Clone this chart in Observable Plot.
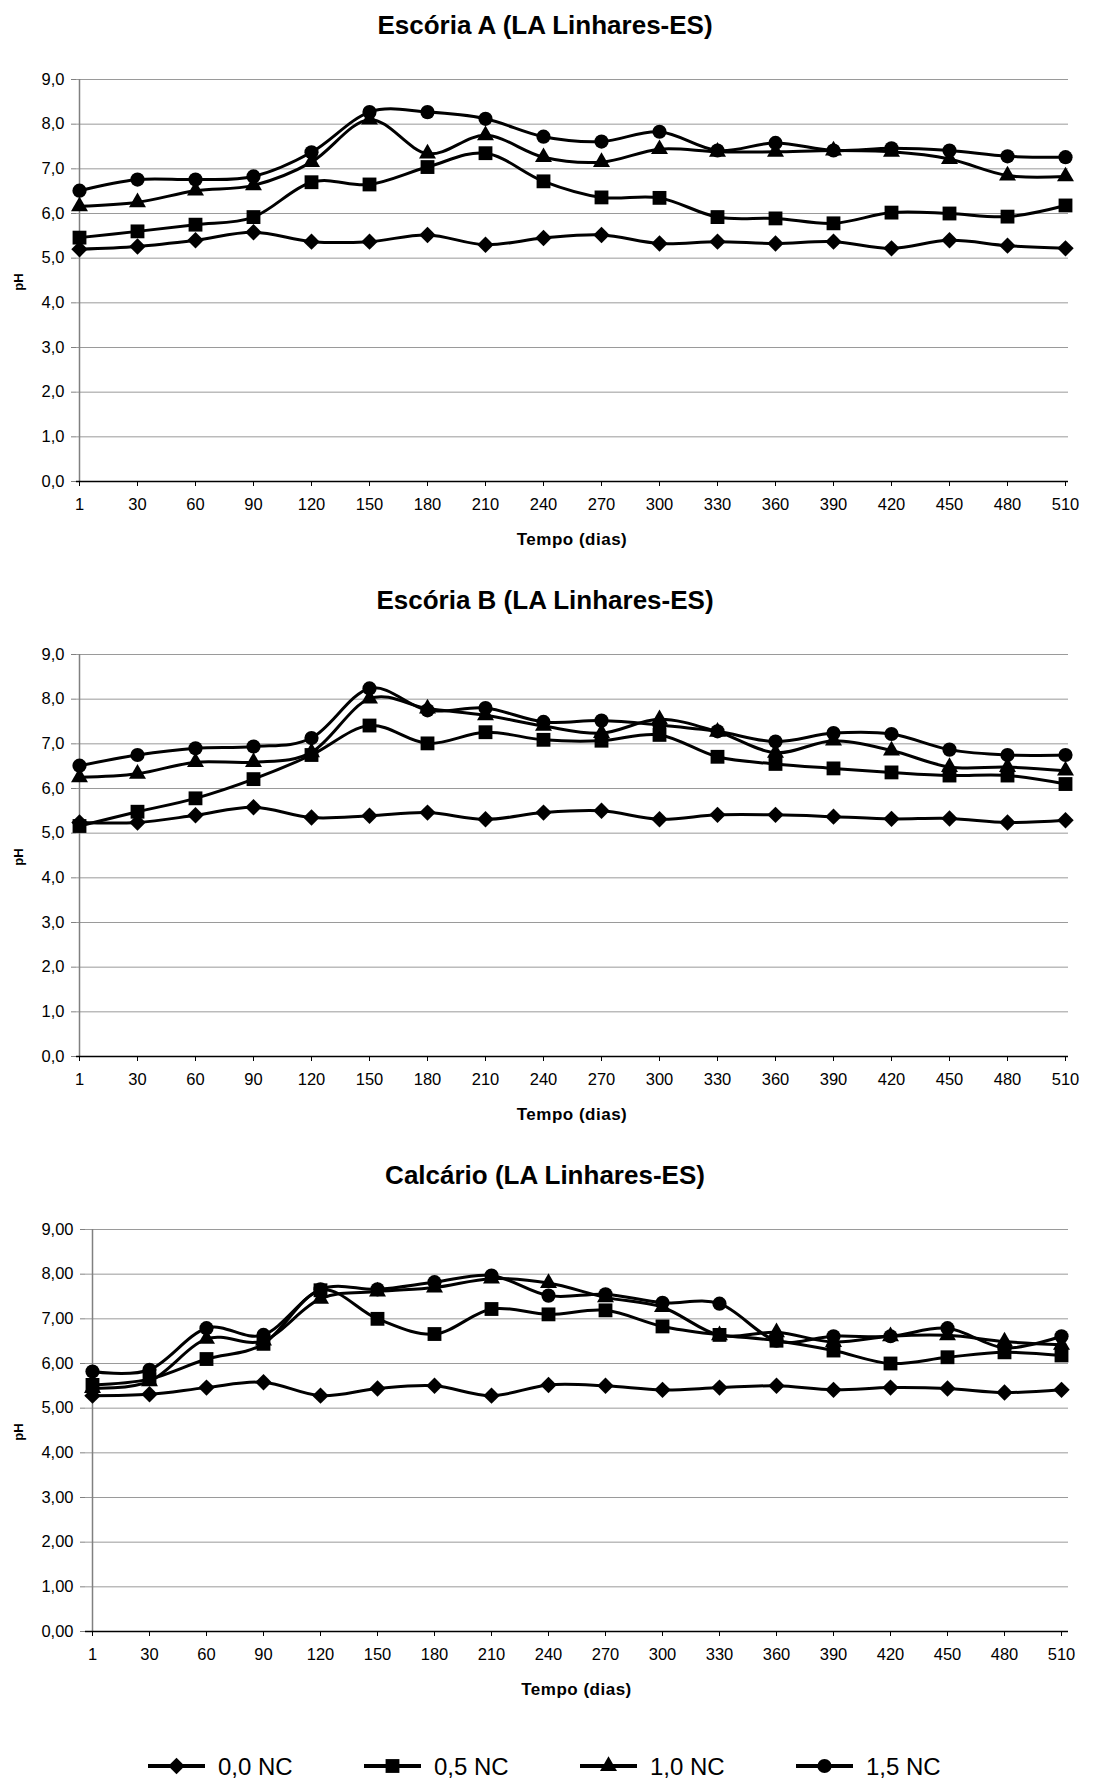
<!DOCTYPE html>
<html>
<head>
<meta charset="utf-8">
<script src="https://cdn.jsdelivr.net/npm/d3@7"></script>
<script src="https://cdn.jsdelivr.net/npm/@observablehq/plot@0.6"></script>
<style>
  body { margin: 0; background: #fff; }
  #page { position: relative; width: 1097px; height: 1782px; overflow: hidden;
          font-family: "Liberation Sans", Arial, sans-serif; color: #000; background: #fff; }
  .t { position: absolute; white-space: nowrap; line-height: 1; transform: translate(-50%, -50%); }
  .title { font-weight: bold; font-size: 26px; }
  .xlab { font-weight: bold; font-size: 17px; letter-spacing: 0.5px; }
  .ylab { font-weight: bold; font-size: 13px; transform: translate(-50%, -50%) rotate(-90deg); }
  .chart { position: absolute; left: 0; }
  #legend { position: absolute; left: 0; top: 1744px; }
</style>
</head>
<body>
<div id="page"></div>
<script>
// ---------- data ----------
const days = [1, 30, 60, 90, 120, 150, 180, 210, 240, 270, 300, 330, 360, 390, 420, 450, 480, 510];
const seriesNames = ["0,0 NC", "0,5 NC", "1,0 NC", "1,5 NC"];
const yTicks = [0, 1, 2, 3, 4, 5, 6, 7, 8, 9];

const titles = ["Escória A (LA Linhares-ES)", "Escória B (LA Linhares-ES)", "Calcário (LA Linhares-ES)"];
const xLabel = "Tempo (dias)";
const yLabel = "pH";

// Escória A
const A00 = [5.20, 5.26, 5.40, 5.58, 5.37, 5.37, 5.52, 5.30, 5.45, 5.52, 5.33, 5.37, 5.33, 5.37, 5.22, 5.40, 5.28, 5.22];
const A05 = [5.46, 5.60, 5.75, 5.92, 6.70, 6.65, 7.04, 7.35, 6.72, 6.36, 6.35, 5.92, 5.89, 5.78, 6.02, 6.00, 5.93, 6.18];
const A10 = [6.16, 6.25, 6.51, 6.63, 7.15, 8.10, 7.34, 7.75, 7.26, 7.15, 7.44, 7.38, 7.38, 7.41, 7.38, 7.22, 6.85, 6.83];
const A15 = [6.51, 6.76, 6.76, 6.83, 7.37, 8.27, 8.27, 8.12, 7.72, 7.61, 7.83, 7.41, 7.58, 7.41, 7.46, 7.41, 7.28, 7.26];

// Escória B
const B00 = [5.24, 5.24, 5.40, 5.58, 5.35, 5.39, 5.46, 5.31, 5.46, 5.50, 5.31, 5.41, 5.41, 5.37, 5.32, 5.33, 5.24, 5.29];
const B05 = [5.16, 5.48, 5.78, 6.21, 6.75, 7.41, 7.01, 7.26, 7.09, 7.07, 7.20, 6.71, 6.55, 6.45, 6.36, 6.29, 6.29, 6.10];
const B10 = [6.25, 6.33, 6.59, 6.59, 6.81, 8.01, 7.79, 7.64, 7.40, 7.24, 7.55, 7.27, 6.80, 7.07, 6.85, 6.48, 6.48, 6.40];
const B15 = [6.51, 6.75, 6.90, 6.94, 7.13, 8.24, 7.75, 7.80, 7.49, 7.52, 7.42, 7.28, 7.05, 7.24, 7.22, 6.87, 6.75, 6.75];

// Calcário
const C00 = [5.28, 5.31, 5.46, 5.58, 5.28, 5.44, 5.50, 5.28, 5.52, 5.50, 5.41, 5.46, 5.50, 5.41, 5.46, 5.44, 5.35, 5.41];
const C05 = [5.52, 5.65, 6.10, 6.44, 7.64, 7.00, 6.66, 7.22, 7.10, 7.19, 6.83, 6.64, 6.51, 6.29, 6.00, 6.14, 6.25, 6.18];
const C10 = [5.45, 5.60, 6.55, 6.51, 7.45, 7.61, 7.70, 7.90, 7.80, 7.48, 7.26, 6.63, 6.70, 6.48, 6.61, 6.63, 6.49, 6.42];
const C15 = [5.82, 5.86, 6.79, 6.64, 7.66, 7.66, 7.82, 7.97, 7.52, 7.55, 7.36, 7.34, 6.51, 6.61, 6.61, 6.79, 6.35, 6.61];

// ---------- styling ----------
const FONT = "'Liberation Sans', Arial, sans-serif";
const symbols = [
  {symbol: "diamond2", r: 7.4},
  {symbol: "square", r: 7.8},
  {symbol: "triangle", r: 6.3},
  {symbol: "circle", r: 7.1}
];

const page = document.getElementById("page");
function addText(cls, txt, x, y) {
  const d = document.createElement("div");
  d.className = "t " + cls;
  d.textContent = txt;
  d.style.left = x + "px";
  d.style.top = y + "px";
  page.appendChild(d);
}

function makeChart(seriesValues, digits, marginLeft) {
  const marks = [
    Plot.ruleY(yTicks.slice(1), {stroke: "#9a9a9a", strokeWidth: 1}),
    Plot.ruleX([days[0]], {y1: 0, y2: 9, stroke: "#808080", strokeWidth: 1.5}),
    Plot.ruleY([0], {stroke: "#000", strokeWidth: 1.3}),
    Plot.axisY({ticks: yTicks, tickSize: 5, tickPadding: 7, stroke: "#808080", fill: "#000",
                tickFormat: d => d.toFixed(digits).replace(".", ","), label: null}),
    Plot.axisX({tickSize: 5, tickPadding: 12, stroke: "#000", fill: "#000", label: null})
  ];
  seriesValues.forEach((vals, i) => {
    const rows = days.map((d, j) => ({day: d, ph: vals[j]}));
    marks.push(Plot.line(rows, {x: "day", y: "ph", curve: "cardinal", tension: 0,
                                stroke: "#000", strokeWidth: 3}));
    marks.push(Plot.dot(rows, {x: "day", y: "ph", symbol: symbols[i].symbol, r: symbols[i].r,
                               fill: "#000", stroke: "none"}));
  });
  return Plot.plot({
    width: 1097, height: 470,
    marginTop: 29, marginBottom: 39, marginLeft, marginRight: 29,
    x: {type: "point", domain: days, padding: 0, label: null},
    y: {domain: [0, 9], label: null},
    style: {fontFamily: FONT, fontSize: "16.5px", color: "#000", background: "transparent", overflow: "visible"},
    marks
  });
}

const charts = [
  {vals: [A00, A05, A10, A15], digits: 1, ml: 76, top: 50},
  {vals: [B00, B05, B10, B15], digits: 1, ml: 76, top: 625},
  {vals: [C00, C05, C10, C15], digits: 2, ml: 85, top: 1200}
];

charts.forEach((c, k) => {
  const svg = makeChart(c.vals, c.digits, c.ml);
  svg.classList.add("chart");
  svg.style.top = c.top + "px";
  page.appendChild(svg);
  addText("title", titles[k], 545, c.top - 25);
  addText("xlab", xLabel, (c.ml + 1068) / 2, c.top + 489);
  addText("ylab", yLabel, 18, c.top + 232);
});

// ---------- legend ----------
const lg = d3.create("svg").attr("id", "legend").attr("width", 1097).attr("height", 38)
  .style("font-family", FONT);
const legendX = [148, 364, 580, 796];
const symMap = {diamond2: d3.symbolDiamond2, square: d3.symbolSquare, triangle: d3.symbolTriangle, circle: d3.symbolCircle};
seriesNames.forEach((name, i) => {
  const g = lg.append("g").attr("transform", `translate(${legendX[i]},22)`);
  g.append("line").attr("x1", 0).attr("x2", 57).attr("y1", 0).attr("y2", 0)
    .attr("stroke", "#000").attr("stroke-width", 4);
  g.append("path").attr("transform", "translate(28.5,0)")
    .attr("d", d3.symbol(symMap[symbols[i].symbol], Math.PI * symbols[i].r * symbols[i].r)())
    .attr("fill", "#000");
  g.append("text").attr("x", 70).attr("y", 0).attr("dy", "0.36em")
    .attr("font-size", 24).attr("fill", "#000").text(name);
});
page.appendChild(lg.node());
</script>
</body>
</html>
